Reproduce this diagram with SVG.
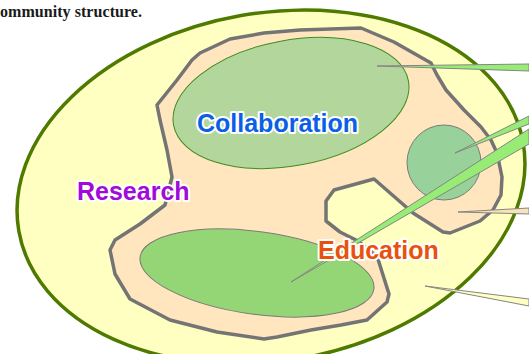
<svg xmlns="http://www.w3.org/2000/svg" width="529" height="354" viewBox="0 0 529 354">
<style>
.lbl{font-family:"Liberation Sans",Arial,sans-serif;font-weight:bold;font-size:25px;stroke:#fff;stroke-width:4;stroke-linejoin:round;paint-order:stroke}
.wedge{stroke:#858585;stroke-width:1;stroke-linejoin:miter}
.thin{stroke:#7a7a7a;stroke-width:1}
</style>
<rect width="529" height="354" fill="#fff"/>
<text x="0" y="17" font-family="'Liberation Serif',serif" font-weight="bold" font-size="16" fill="#1a1a1a" textLength="142">ommunity structure.</text>
<g id="research">
<ellipse cx="271" cy="187" rx="256" ry="174" transform="rotate(-9.9 271 187)" fill="#FFFFC2" stroke="#4E7A00" stroke-width="3.5"/>
</g>
<g id="community">
<polygon points="264,33 300,30 361,28 394,42 431,63 437,75 446,90 464,110 481,127 491,140 497,153 502,177 501,195 493,210 480,221 450,233 443,232 413,213 374,179 334,190 326,201 326,221 340,232 358,241 377,256 389,294 387,302 367,320 341,325 311,330 277,337 264,339 217,332 170,320 130,299 115,274 110,250 115,240 140,224 165,205 172,177 167,150 160,120 157,105 177,80 192,60 200,53 230,39" fill="#FFE6BE" stroke="#747474" stroke-width="3.5" stroke-linejoin="round"/>
</g>
<g id="collaboration">
<ellipse cx="291" cy="103" rx="119.5" ry="62.7" transform="rotate(-10.7 291 103)" fill="#B3D69C" stroke="#3E8C1E" stroke-width="1"/>
</g>
<g id="subgroup">
<ellipse cx="444" cy="162.5" rx="37" ry="37.5" fill="#99D19B" class="thin"/>
</g>
<g id="education">
<ellipse cx="257" cy="273" rx="118" ry="41.4" transform="rotate(7.8 257 273)" fill="#94D575" class="thin"/>
</g>
<g id="connectors">
<polygon class="wedge" points="377,66 529,64 529,71" fill="#96EC74"/>
<polygon class="wedge" points="455,153 529,116 529,124" fill="#96EC74"/>
<polygon class="wedge" points="291,282 529,129 529,144" fill="#96EC74"/>
<polygon class="wedge" points="458,212 529,208 529,214" fill="#F6E3B6"/>
<polygon class="wedge" points="425,286 529,299 529,306" fill="#FFFFC2"/>
</g>
<g id="labels">
<text id="label-collaboration" class="lbl" x="197" y="132" font-size="25.5" fill="#0B5FE6">Collaboration</text>
<text id="label-research" class="lbl" x="77" y="200" fill="#A00ADA">Research</text>
<text id="label-education" class="lbl" x="318" y="259" fill="#E8520E">Education</text>
</g>
</svg>
